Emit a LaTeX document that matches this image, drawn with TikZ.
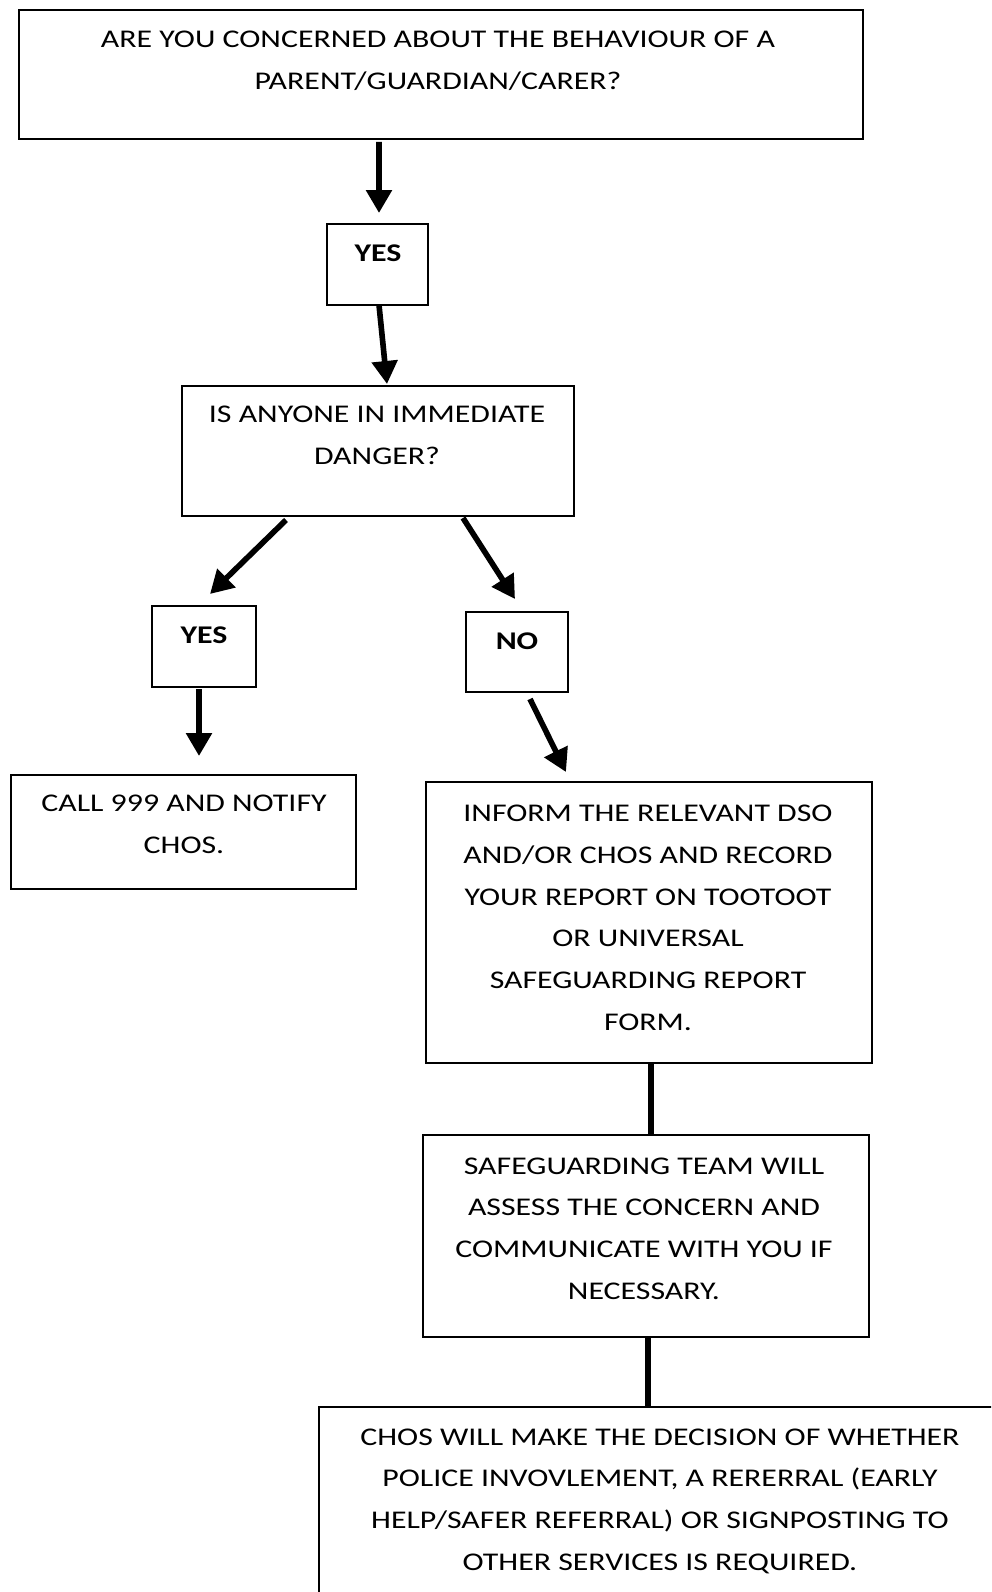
\documentclass[tikz,border=0pt]{standalone}
\usepackage{fontspec}
\setmainfont{Carlito}[FakeStretch=1.25]
\usetikzlibrary{calc}
\usetikzlibrary{arrows.meta}
\usetikzlibrary{positioning}

\tikzset{
  box/.style={draw, line width=1.6pt, inner sep=0pt, outer sep=0pt},
  txt/.style={align=center, inner sep=0pt, anchor=base,
    font=\fontsize{14.5}{23.8}\selectfont},
  arr/.style={line width=3.2pt, -{Triangle[length=0.46cm,width=0.5cm]}},
  link/.style={line width=3.2pt}
}

\begin{document}
\begin{tikzpicture}[x=0.02cm, y=-0.02cm]
            \clip (0,0) rectangle (991,1592);

            % Question
            \node[box, minimum width=16.88cm, minimum height=2.58cm] (q1) at (441,74.5) {};
            \node[txt] (q1t) at (438,89.5) {ARE YOU CONCERNED ABOUT THE BEHAVIOUR OF A\\PARENT/GUARDIAN/CARER?};

            \node[box, minimum width=2.02cm, minimum height=1.62cm] (yes1) at (377.5,264.5) {};
            \node[txt, font=\fontsize{14.5}{23.8}\selectfont\bfseries] (yes1t) at (378,261) {YES};

            % Danger
            \node[box, minimum width=7.84cm, minimum height=2.6cm] (danger) at (378,451) {};
            \node[txt] (dangert) at (377,464.5) {IS ANYONE IN IMMEDIATE\\DANGER?};

            \node[box, minimum width=2.08cm, minimum height=1.62cm] (yes2) at (204,646.5) {};
            \node[txt, font=\fontsize{14.5}{23.8}\selectfont\bfseries] (yes2t) at (204,643) {YES};
            \node[box, minimum width=2.04cm, minimum height=1.6cm] (no) at (517,652) {};
            \node[txt, font=\fontsize{14.5}{23.8}\selectfont\bfseries] (not) at (517,649) {NO};

            % Actions
            \node[box, minimum width=6.9cm, minimum height=2.28cm] (call) at (183.5,832) {};
            \node[txt] (callt) at (184,853.5) {CALL 999 AND NOTIFY\\CHOS.};

            \node[box, minimum width=8.92cm, minimum height=5.62cm] (inform) at (649,922.5) {};
            \node[txt] (informt) at (648,1030.5) {INFORM THE RELEVANT DSO\\AND/OR CHOS AND RECORD\\YOUR REPORT ON TOOTOOT\\OR UNIVERSAL\\SAFEGUARDING REPORT\\FORM.};

            \node[box, minimum width=8.92cm, minimum height=4.04cm] (safe) at (646,1236) {};
            \node[txt] (safet) at (644,1299.5) {SAFEGUARDING TEAM WILL\\ASSESS THE CONCERN AND\\COMMUNICATE WITH YOU IF\\NECESSARY.};

            \node[box, minimum width=13.64cm, minimum height=4.66cm] (chos) at (660,1523.5) {};
            \node[txt] (chost) at (660,1570.5) {CHOS WILL MAKE THE DECISION OF WHETHER\\POLICE INVOVLEMENT, A RERERRAL (EARLY\\HELP/SAFER REFERRAL) OR SIGNPOSTING TO\\OTHER SERVICES IS REQUIRED.};

            % Arrows
            \draw[arr] ($(q1.south)+(-62,3)$) -- ($(yes1.north)+(1.5,-11)$);
            \draw[arr] ($(yes1.south)+(1.5,0)$) -- ($(danger.north)+(9,-2)$);
            \draw[arr] ($(danger.south)+(-92,4)$) -- ($(yes2.north)+(6,-12)$);
            \draw[arr] ($(danger.south)+(85,2)$) -- ($(no.north)+(-2,-13)$);
            \draw[arr] ($(yes2.south)+(-5,2)$) -- ($(call.north)+(15.5,-19)$);
            \draw[arr] ($(no.south)+(13,7)$) -- ($(inform.north)+(-83,-10)$);
            \draw[link] ($(inform.south)+(2,0)$) -- ($(safe.north)+(5,0)$);
            \draw[link] ($(safe.south)+(2,0)$) -- ($(chos.north)+(-12,0)$);

\end{tikzpicture}
\end{document}
